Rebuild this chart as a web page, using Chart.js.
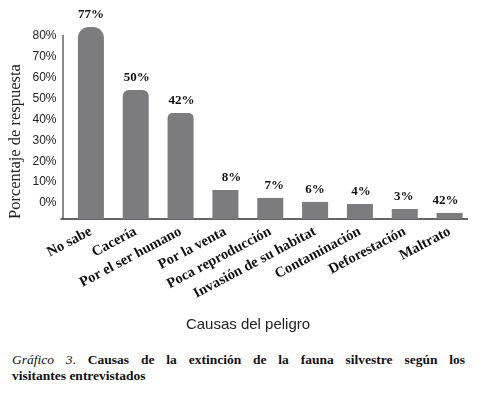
<!DOCTYPE html>
<html>
<head>
<meta charset="utf-8">
<script src="https://cdn.jsdelivr.net/npm/chart.js@4.4.1/dist/chart.umd.min.js"></script>
<style>
  html, body { margin: 0; padding: 0; background: #fff; }
  #contenedor { position: relative; width: 477px; height: 340px; }
  .leyenda { position: absolute; left: 12px; width: 453px; font: bold 13.5px "Liberation Serif", serif; color: #111; line-height: 16px; }
</style>
</head>
<body>
<div id="contenedor"><canvas id="meuGrafico"></canvas></div>
<div class="leyenda" style="top:352px; text-align:justify; text-align-last:justify;"><span style="font-style:italic; font-weight:normal;">Gráfico 3</span><span style="font-weight:normal;">.</span> Causas de la extinción de la fauna silvestre según los</div>
<div class="leyenda" style="top:368px;">visitantes entrevistados</div>

<script>
// datos
const causas = ['No sabe', 'Cacería', 'Por el ser humano', 'Por la venta', 'Poca reproducción',
  'Invasión de su habitat', 'Contaminación', 'Deforestación', 'Maltrato'];
const alturas = [84.3, 54.1, 43.1, 6.2, 2.4, 0.5, -0.5, -2.9, -4.8];   // altura de las barras en la escala del eje
const etiquetas = ['77%', '50%', '42%', '8%', '7%', '6%', '4%', '3%', '42%'];
const marcasY = [0, 10, 20, 30, 40, 50, 60, 70, 80];
const ejeMin = -7.7;
const ejeMax = 80;

// estilo
const gris = '#7c7c7e';
const radios = [11, 6, 5, 0, 0, 0, 0, 0, 0];
const desplazX = [0, 1, 1, 6, 4, 0, 1, -1, -4];

const etiquetasPlugin = {
  id: 'etiquetas',
  afterDatasetsDraw(chart) {
    const ctx = chart.ctx;
    const meta = chart.getDatasetMeta(0);
    ctx.save();
    ctx.font = 'bold 13px "Liberation Serif", serif';
    ctx.fillStyle = '#111';
    ctx.textAlign = 'center';
    ctx.textBaseline = 'middle';
    meta.data.forEach((barra, i) => {
      ctx.fillText(etiquetas[i], barra.x + desplazX[i], barra.y - 12);
    });
    // titulo del eje x, algo corrido a la izquierda como en el original
    ctx.font = '15px "Liberation Sans", Arial, sans-serif';
    ctx.fillStyle = '#222';
    ctx.fillText('Causas del peligro', 248, 325);
    ctx.restore();
  }
};

const ejesPlugin = {
  id: 'ejes',
  beforeDatasetsDraw(chart) {
    const ctx = chart.ctx;
    const area = chart.chartArea;
    const y = chart.scales.y;
    ctx.save();
    ctx.strokeStyle = '#8a8a8a';
    ctx.lineWidth = 2;
    ctx.beginPath();
    ctx.moveTo(area.left - 5.5, y.getPixelForValue(ejeMax) - 1);
    ctx.lineTo(area.left - 5.5, area.bottom);
    ctx.stroke();
    ctx.strokeStyle = '#333';
    ctx.lineWidth = 1.5;
    ctx.beginPath();
    ctx.moveTo(area.left - 8, area.bottom);
    ctx.lineTo(area.right - 4, area.bottom);
    ctx.stroke();
    ctx.restore();
  }
};

const ctx = document.getElementById('meuGrafico');

new Chart(ctx, {
  type: 'bar',
  data: {
    labels: causas,
    datasets: [{
      data: alturas,
      base: ejeMin,
      backgroundColor: gris,
      borderWidth: 0,
      borderRadius: c => radios[c.dataIndex],
      borderSkipped: 'start',
      barPercentage: 0.58,
      categoryPercentage: 1,
      clip: false
    }]
  },
  options: {
    responsive: true,
    maintainAspectRatio: false,
    animation: false,
    layout: { padding: { top: 36, right: 5, left: 0, bottom: 0 } },
    plugins: { legend: { display: false }, tooltip: { enabled: false } },
    scales: {
      x: {
        grid: { display: false, drawTicks: false },
        border: { display: false },
        ticks: {
          autoSkip: false,
          minRotation: 28,
          maxRotation: 28,
          padding: 4,
          color: '#111',
          font: { family: '"Liberation Serif", serif', size: 14.5, weight: 'bold' }
        },
        afterFit: s => { s.height = 121; }
      },
      y: {
        min: ejeMin,
        max: ejeMax,
        grid: { display: false, drawTicks: false },
        border: { display: false },
        afterBuildTicks: s => { s.ticks = marcasY.map(v => ({ value: v })); },
        ticks: {
          padding: 12,
          color: '#222',
          font: { family: '"Liberation Sans", Arial, sans-serif', size: 12 },
          callback: v => v + '%'
        },
        title: {
          display: true,
          text: 'Porcentaje de respuesta',
          align: 'start',
          color: '#222',
          font: { family: '"Liberation Serif", serif', size: 16.5, lineHeight: 1.2 },
          padding: { top: 6, bottom: 0 }
        },
        afterFit: s => { s.width = 68.5; }
      }
    }
  },
  plugins: [ejesPlugin, etiquetasPlugin]
});
</script>
</body>
</html>
